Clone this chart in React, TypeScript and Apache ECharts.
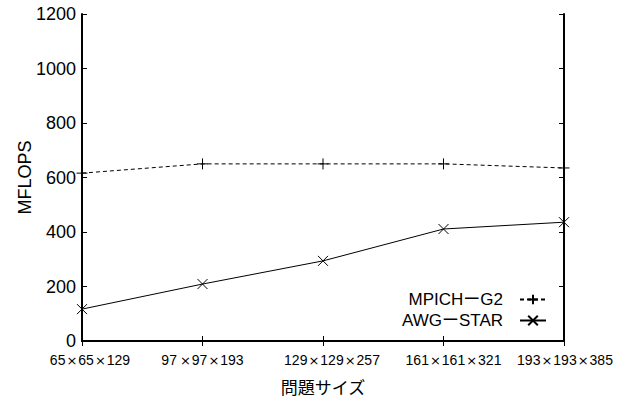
import React, { useEffect, useRef } from "react";
import * as echarts from "echarts";

const categories = ["65×65×129", "97×97×193", "129×129×257", "161×161×321", "193×193×385"];
const mpichValues = [616, 650, 650, 650, 635];
const awgValues = [117, 209, 294, 411, 436];
const seriesNames = ["MPICHーG2", "AWGーSTAR"];
const yTicks = { min: 0, max: 1200, interval: 200 };
const xAxisTitle = "問題サイズ";
const yAxisTitle = "MFLOPS";

const labelShift = [8, -1, 9, 10, 1];

const PLUS = "path://M5,0L5,10M0,5L10,5";
const CROSS = "path://M0,0L10,10M10,0L0,10";

export default function App() {
  const ref = useRef<HTMLDivElement>(null);
  useEffect(() => {
    if (!ref.current) return;
    const chart = echarts.init(ref.current, null, { renderer: "svg" });
    const latin = "Liberation Sans, Arial, sans-serif";
    const cjk = "Noto Sans CJK JP, sans-serif";
    const mixed = "Liberation Sans, Noto Sans CJK JP, sans-serif";
    const rich: any = {
      x: { fontFamily: "DejaVu Sans, sans-serif", fontSize: 13, color: "#000", padding: [0, 1, 0, 1] },
    };
    labelShift.forEach((s, i) => {
      rich["n" + i] = {
        fontFamily: latin,
        fontSize: 14,
        color: "#000",
        padding: s >= 0 ? [0, 0, 0, 2 * s] : [0, -2 * s, 0, 0],
      };
      rich["m" + i] = { fontFamily: latin, fontSize: 14, color: "#000" };
    });
    const axisLine = { show: true, lineStyle: { color: "#000", width: 2 } };
    const axisTick = { show: true, inside: true, length: 5, lineStyle: { color: "#000", width: 1 } };
    const itemStyle = { color: "none", borderColor: "#000", borderWidth: 1 };
    chart.setOption({
      animation: false,
      grid: { left: 82, right: 69, top: 14, bottom: 62, containLabel: false, outerBoundsMode: "none" },
      xAxis: [
        {
          type: "category",
          data: categories,
          boundaryGap: false,
          position: "bottom",
          axisLine,
          axisTick: { ...axisTick, alignWithLabel: true },
          splitLine: { show: false },
          axisLabel: {
            margin: 12,
            interval: 0,
            formatter: (v: string, i: number) => {
              const parts = v.split("×");
              return parts
                .map((p, k) => `{${k === 0 ? "n" : "m"}${i}|${p}}`)
                .join("{x|×}");
            },
            rich,
          },
          name: xAxisTitle,
          nameLocation: "middle",
          nameGap: 37,
          nameMoveOverlap: false,
          nameTextStyle: { fontFamily: cjk, fontSize: 17, color: "#000" },
        },
        {
          type: "category",
          data: categories,
          boundaryGap: false,
          position: "top",
          axisLine,
          axisTick,
          axisLabel: { show: false },
          splitLine: { show: false },
        },
      ],
      yAxis: [
        {
          type: "value",
          ...yTicks,
          position: "left",
          axisLine,
          axisTick,
          splitLine: { show: false },
          axisLabel: {
            fontFamily: latin,
            fontSize: 18,
            color: "#000",
            margin: 6,
            formatter: (v: number) => String(v),
          },
          name: yAxisTitle,
          nameLocation: "middle",
          nameGap: 48,
          nameMoveOverlap: false,
          nameTextStyle: { fontFamily: latin, fontSize: 18, color: "#000" },
        },
        {
          type: "value",
          ...yTicks,
          position: "right",
          axisLine,
          axisTick,
          splitLine: { show: false },
          axisLabel: { show: false },
        },
      ],
      legend: [0, 1].map((i) => ({
        data: [seriesNames[i]],
        orient: "vertical",
        right: 86,
        top: 291 + i * 21,
        padding: 0,
        align: "right",
        itemWidth: 26,
        itemHeight: 12,
        textStyle: { fontFamily: mixed, fontSize: 17, color: "#000", padding: [0, 12, 0, 0] },
      })),
      series: [
        {
          name: seriesNames[0],
          type: "line",
          data: mpichValues,
          symbol: PLUS,
          symbolSize: 11,
          showSymbol: true,
          color: "#000",
          lineStyle: { color: "#000", width: 1, type: [4, 3] },
          itemStyle,
        },
        {
          name: seriesNames[1],
          type: "line",
          data: awgValues,
          symbol: CROSS,
          symbolSize: 10,
          showSymbol: true,
          color: "#000",
          lineStyle: { color: "#000", width: 1 },
          itemStyle,
        },
      ],
    });
    return () => chart.dispose();
  }, []);
  return (
    <div
      ref={ref}
      style={{ position: "fixed", left: 0, top: 0, width: 633, height: 403, background: "#fff" }}
    />
  );
}
